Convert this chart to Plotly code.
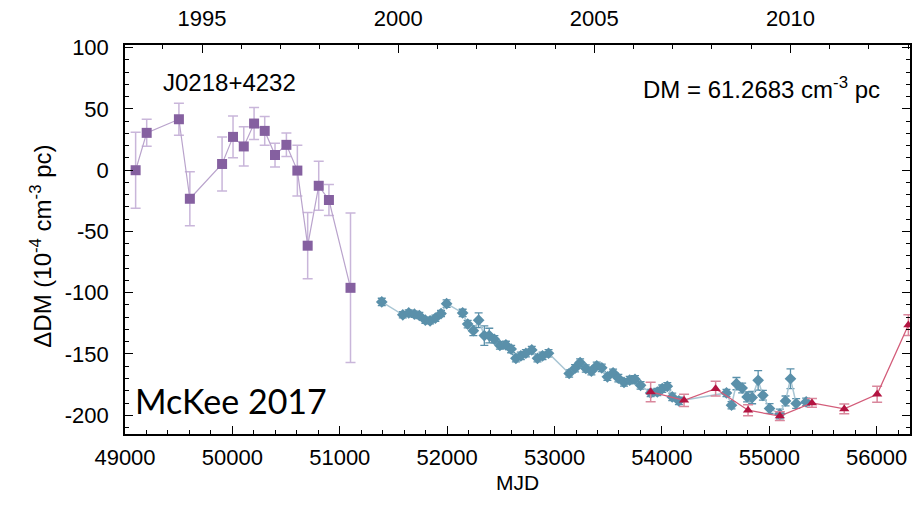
import plotly.graph_objects as go
import numpy as np

# --- Data ---
mjd_purple = [49099, 49202, 49502, 49604, 49904, 50006, 50106, 50202, 50301, 50397,
              50503, 50605, 50701, 50804, 50899, 51100]
dm_purple = [0, 30.5, 41.6, -23.3, 5.1, 27.2, 19.4, 38.1, 32.1, 12.4,
             20.7, -0.3, -61.6, -12.7, -24.3, -96]
err_purple = [31, 11, 13, 22, 22, 17, 16, 13, 11.7, 9.7, 9.6, 20.7, 27, 20, 12.6, 61]

mjd_blue = [51391, 51587, 51642, 51695, 51741, 51797, 51841, 51890, 51943, 51995,
            52144, 52191, 52244, 52293, 52346, 52392, 52440, 52491, 52547, 52596,
            52640, 52686, 52733, 52788, 52841, 52888, 52944, 53136, 53191, 53238,
            53291, 53343, 53393, 53440, 53492, 53545, 53594, 53647, 53700, 53749,
            53801, 53895, 53957, 54003, 54050, 54096, 54158, 54601, 54648, 54694,
            54747, 54793, 54840, 54896, 54940, 55002, 55098, 55151, 55197, 55250,
            55343]
dm_blue = [-107.5, -118, -116.5, -117.5, -118.6, -122.4, -122.9, -120.8, -117, -108.9,
           -116.5, -125.6, -131, -122.4, -135, -135, -138, -143, -142.6, -146,
           -153.5, -151.5, -149.4, -146.7, -153.5, -151.5, -149.4, -165.9, -161.6, -157,
           -161.8, -164, -159.6, -161.3, -168.6, -165.3, -169.7, -173.2, -171.3, -170.7,
           -175.6, -181.8, -181, -178.3, -176.4, -185, -188.3, -181.8, -191.8, -174.2,
           -177.8, -185, -185.6, -171.5, -183.7, -194.5, -199, -188.3, -170.2, -190.4,
           -189.1]
err_blue = [3, 2.5, 2.5, 2.5, 2.5, 2.5, 2.5, 2.5, 2.5, 3,
            3, 3, 4, 6, 8, 6, 3, 3, 3, 3,
            3, 3, 3, 3, 3, 3, 3, 3, 3, 3,
            3, 3, 3, 3, 3, 3, 3, 3, 3, 3,
            3, 3, 3, 3, 3, 3, 3, 3, 3, 5,
            4, 4, 5, 8, 4, 4, 4, 4, 8, 4,
            3]

mjd_red = [53895, 54206, 54500, 54802, 55098, 55397, 55698, 56004, 56295]
dm_red = [-181, -187.8, -178.3, -195.9, -200.7, -189.9, -194.8, -182.9, -126.4]
err_red = [8, 5, 6, 4.5, 3.5, 3.5, 4, 6.5, 8.5]

year_labels = ["1995", "2000", "2005", "2010"]

# --- Figure ---
FONT = "Liberation Sans, Arial, sans-serif"
fig = go.Figure()

fig.add_trace(go.Scatter(
    x=mjd_purple, y=dm_purple, mode="lines+markers",
    line=dict(color="#b9a3cc", width=1.2),
    marker=dict(symbol="square", size=10, color="#8560a0"),
    error_y=dict(type="data", array=err_purple, color="#c9b6da", thickness=1.5, width=5),
    showlegend=False))

fig.add_trace(go.Scatter(
    x=mjd_blue, y=dm_blue, mode="lines+markers",
    line=dict(color="#a9c6d4", width=1.5),
    marker=dict(symbol="diamond", size=9, color="#5a90aa"),
    error_y=dict(type="data", array=err_blue, color="#5a90aa", thickness=1.3, width=4),
    showlegend=False))

fig.add_trace(go.Scatter(
    x=mjd_red, y=dm_red, mode="lines+markers",
    line=dict(color="#d35c79", width=1.3),
    marker=dict(symbol="triangle-up", size=9, color="#b31441"),
    error_y=dict(type="data", array=err_red, color="#d9879c", thickness=1.5, width=5),
    showlegend=False))

# invisible trace for the top (year) axis
xr = [49000, 56310]
fig.add_trace(go.Scatter(x=xr, y=[0, 0], xaxis="x2", mode="markers",
                         marker=dict(opacity=0), showlegend=False, hoverinfo="skip"))

def year_to_mjd(y):
    return 51544 + (y - 2000) * 365.25

major_years = [int(t) for t in year_labels]
minor_years = [y for y in range(1993, 2014) if y not in major_years]

fig.update_layout(
    width=918, height=505,
    margin=dict(l=125, r=6, t=42, b=71),
    paper_bgcolor="white", plot_bgcolor="white",
    font=dict(family=FONT, size=22, color="black"),
    xaxis=dict(range=xr, showline=True, linecolor="black", linewidth=1.5,
               ticks="inside", ticklen=8, tickwidth=1.2, tickcolor="black",
               tickmode="array", tickvals=list(range(49000, 56001, 1000)),
               ticktext=[str(v) for v in range(49000, 56001, 1000)],
               minor=dict(tickmode="array", tickvals=list(range(49200, 56300, 200)),
                          ticks="inside", ticklen=4, tickcolor="black"),
               showgrid=False, zeroline=False, ticklabelstandoff=3,
               tickfont=dict(size=22)),
    xaxis2=dict(range=xr, overlaying="x", side="top", showline=True, linecolor="black",
                linewidth=1.5, ticks="inside", ticklen=8, tickwidth=1.2, tickcolor="black",
                tickmode="array", tickvals=[year_to_mjd(y) for y in major_years],
                ticktext=year_labels,
                minor=dict(tickmode="array", tickvals=[year_to_mjd(y) for y in minor_years],
                           ticks="inside", ticklen=4, tickcolor="black"),
                showgrid=False, zeroline=False, ticklabelstandoff=8,
                tickfont=dict(size=22)),
    yaxis=dict(range=[-215.3, 102.2], showline=True, linecolor="black", linewidth=1.5,
               mirror="ticks", ticks="inside", ticklen=8, tickwidth=1.2, tickcolor="black",
               tickmode="array", tickvals=[100, 50, 0, -50, -100, -150, -200],
               ticktext=["100", "50", "0", "-50", "-100", "-150", "-200"],
               minor=dict(tickmode="array", tickvals=list(range(-210, 101, 10)),
                          ticks="inside", ticklen=4, tickcolor="black"),
               showgrid=False, zeroline=False, ticklabelstandoff=10,
               tickfont=dict(size=22)),
)

ann = dict(xref="paper", yref="paper", showarrow=False, xanchor="center", yanchor="middle")
fig.add_annotation(**ann, x=0.133, y=0.903,
                   text="J0218+4232", font=dict(size=24, family=FONT))
fig.add_annotation(**ann, x=0.811, y=0.89,
                   text="DM = 61.2683 cm<sup>-3</sup> pc", font=dict(size=24, family=FONT))
fig.add_annotation(**ann, x=0.135, y=0.087,
                   text="McKee 2017", font=dict(size=34, family="Lato, sans-serif"))
fig.add_annotation(**ann, x=0.4994, y=-0.125,
                   text="MJD", font=dict(size=21, family=FONT))
fig.add_annotation(**ann, x=-0.108, y=0.482, textangle=-90,
                   text="ΔDM (10<sup>-4</sup> cm<sup>-3</sup> pc)", font=dict(size=24, family=FONT))

fig.write_html("out.html")
